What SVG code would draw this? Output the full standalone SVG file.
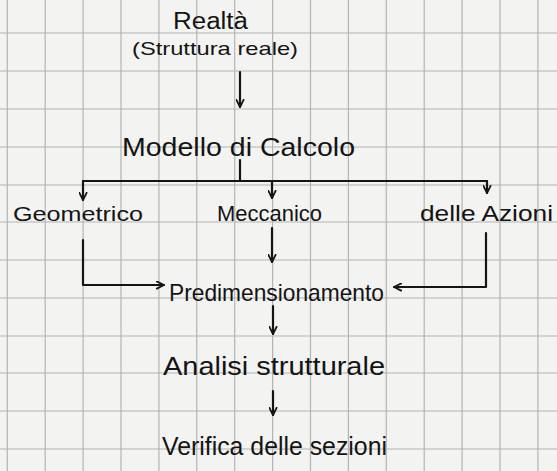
<svg xmlns="http://www.w3.org/2000/svg" width="557" height="471" viewBox="0 0 557 471">
  <defs>
    <style>
      .grid { stroke: #b4b4b4; stroke-width: 1.2; }
      .conn { fill: none; stroke: #151515; stroke-width: 2.2; stroke-linecap: round; stroke-linejoin: round; }
      .lbl { font-family: "Liberation Sans", "DejaVu Sans", sans-serif; fill: #141414; }
    </style>
    <marker id="arr" viewBox="0 0 10 10" refX="9" refY="5" markerWidth="9" markerHeight="9" markerUnits="userSpaceOnUse" orient="auto">
      <path d="M1,1 L9,5 L1,9" fill="none" stroke="#151515" stroke-width="2" stroke-linecap="round" stroke-linejoin="round"/>
    </marker>
  </defs>
  <rect x="0" y="0" width="557" height="471" fill="#f3f3f1"/>
  <g id="grid">
    <path class="grid" d="M7.3,0V471 M45.2,0V471 M83.1,0V471 M121,0V471 M158.9,0V471 M196.8,0V471 M234.7,0V471 M272.6,0V471 M310.5,0V471 M348.4,0V471 M386.3,0V471 M424.2,0V471 M462.1,0V471 M500,0V471 M537.9,0V471"/>
    <path class="grid" d="M0,33H557 M0,71H557 M0,109H557 M0,147H557 M0,185H557 M0,222H557 M0,260H557 M0,298H557 M0,336H557 M0,373H557 M0,411H557 M0,449H557"/>
  </g>
  <g id="connectors">
    <path class="conn" d="M240,72V107" marker-end="url(#arr)"/>
    <path class="conn" d="M240,160V181"/>
    <path class="conn" d="M83,181H487"/>
    <path class="conn" d="M83,181V200" marker-end="url(#arr)"/>
    <path class="conn" d="M272,181V198" marker-end="url(#arr)"/>
    <path class="conn" d="M487,181V193" marker-end="url(#arr)"/>
    <path class="conn" d="M272,228V262" marker-end="url(#arr)"/>
    <path class="conn" d="M83,240V285H164" marker-end="url(#arr)"/>
    <path class="conn" d="M486,233V287H394" marker-end="url(#arr)"/>
    <path class="conn" d="M273,306V334" marker-end="url(#arr)"/>
    <path class="conn" d="M273,391V415" marker-end="url(#arr)"/>
  </g>
  <g id="realta">
    <text class="lbl" x="173" y="29" font-size="23" textLength="75" lengthAdjust="spacingAndGlyphs">Realtà</text>
    <text class="lbl" x="132" y="55" font-size="19" textLength="166" lengthAdjust="spacingAndGlyphs">(Struttura reale)</text>
  </g>
  <g id="modello">
    <text class="lbl" x="122" y="156" font-size="25" textLength="233" lengthAdjust="spacingAndGlyphs">Modello di Calcolo</text>
  </g>
  <g id="geometrico">
    <text class="lbl" x="13" y="221" font-size="21" textLength="130" lengthAdjust="spacingAndGlyphs">Geometrico</text>
  </g>
  <g id="meccanico">
    <text class="lbl" x="217" y="221" font-size="22" textLength="105" lengthAdjust="spacingAndGlyphs">Meccanico</text>
  </g>
  <g id="azioni">
    <text class="lbl" x="420" y="221" font-size="22" textLength="133" lengthAdjust="spacingAndGlyphs">delle Azioni</text>
  </g>
  <g id="predimensionamento">
    <text class="lbl" x="169" y="301" font-size="24" textLength="215" lengthAdjust="spacingAndGlyphs">Predimensionamento</text>
  </g>
  <g id="analisi">
    <text class="lbl" x="163" y="375" font-size="26" textLength="222" lengthAdjust="spacingAndGlyphs">Analisi strutturale</text>
  </g>
  <g id="verifica">
    <text class="lbl" x="162" y="455" font-size="26" textLength="225" lengthAdjust="spacingAndGlyphs">Verifica delle sezioni</text>
  </g>
</svg>
